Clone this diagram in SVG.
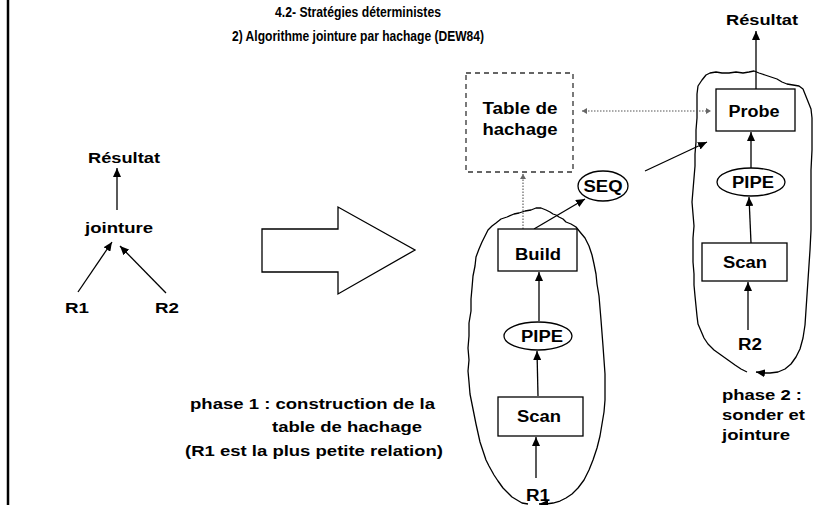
<svg xmlns="http://www.w3.org/2000/svg" width="830" height="505" viewBox="0 0 830 505">
  <defs>
    <style>
      text { font-family: "Liberation Sans", Arial, sans-serif; font-weight: bold; font-size: 15px; fill: #000; }
      .title { font-size: 15px; text-anchor: middle; }
      .c { text-anchor: middle; }
      .n { font-size: 16px; }
      .edge { stroke: #000; stroke-width: 1.3; fill: none; marker-end: url(#arrow); }
      .dot { stroke: #555; stroke-width: 1.1; stroke-dasharray: 1.5 1.5; fill: none; }
      .box { fill: #fff; stroke: #000; stroke-width: 1.3; }
      .blob { fill: none; stroke: #000; stroke-width: 1.3; stroke-linejoin: round; marker-end: url(#arrow); }
    </style>
    <marker id="arrow" markerUnits="userSpaceOnUse" markerWidth="9" markerHeight="8" refX="9" refY="4" orient="auto">
      <path d="M0,0 L9,4 L0,8 z" fill="#000"/>
    </marker>
    <marker id="tiny" markerUnits="userSpaceOnUse" markerWidth="6" markerHeight="6" refX="5" refY="3" orient="auto">
      <path d="M0,0 L5,3 L0,6 z" fill="#666"/>
    </marker>
    <marker id="tinyStart" markerUnits="userSpaceOnUse" markerWidth="6" markerHeight="6" refX="0" refY="3" orient="auto">
      <path d="M5,0 L0,3 L5,6 z" fill="#666"/>
    </marker>
  </defs>

  <rect width="830" height="505" fill="#fff"/>

  <!-- page margin rule -->
  <line x1="8" y1="0" x2="8" y2="505" stroke="#000" stroke-width="2.5"/>

  <!-- headings -->
  <text class="title" x="358" y="17" textLength="166" lengthAdjust="spacingAndGlyphs">4.2- Stratégies déterministes</text>
  <text class="title" x="358" y="41" textLength="252" lengthAdjust="spacingAndGlyphs">2) Algorithme jointure par hachage (DEW84)</text>

  <!-- logical plan (left tree) -->
  <g id="tree-resultat"><text class="c" x="124" y="163" textLength="72" lengthAdjust="spacingAndGlyphs">Résultat</text></g>
  <g id="tree-jointure"><text class="c" x="119" y="233" textLength="68" lengthAdjust="spacingAndGlyphs">jointure</text></g>
  <g id="tree-r1"><text class="c" x="77" y="313" textLength="24" lengthAdjust="spacingAndGlyphs">R1</text></g>
  <g id="tree-r2"><text class="c" x="167" y="313" textLength="24" lengthAdjust="spacingAndGlyphs">R2</text></g>

  <!-- block arrow -->
  <g id="transform-arrow">
    <polygon points="262,229 338,229 338,207 415,250 338,294 338,272 262,272" fill="#fff" stroke="#000" stroke-width="1.3"/>
  </g>

  <!-- phase 1 region -->
  <g id="phase1-region">
    <path class="blob" d="M528,504 L522,503 L517,500 L512,497 L507,492 L503,488 L498,481 L494,475 L489,466 L486,460 L483,451 L480,442 L478,433 L476,424 L474,414 L472,404 L470,394 L469,382 L468,371 L469,360 L468,348 L469,336 L469,323 L471,311 L471,299 L472,288 L473,276 L475,266 L476,257 L479,249 L482,242 L485,236 L488,230 L492,226 L496,223 L501,219 L507,217 L514,214 L519,213 L525,211 L531,210 L536,208 L541,208 L546,210 L550,212 L553,214 L556,215 L559,217 L563,219 L566,222 L571,224 L576,227 L580,232 L585,238 L589,246 L592,255 L594,264 L596,274 L597,284 L599,296 L600,308 L601,320 L602,333 L603,346 L604,360 L605,374 L605,388 L605,400 L604,412 L602,424 L600,436 L597,448 L593,460 L589,470 L584,480 L578,488 L572,494 L566,498 L560,501 L553,503 L546,504 L539,504"/>
  </g>

  <!-- phase 2 region -->
  <g id="phase2-region">
    <path class="blob" d="M747,372 L741,369 L735,365 L728,360 L721,355 L714,350 L708,344 L704,338 L701,331 L698,324 L697,316 L696,306 L695,296 L694,285 L694,274 L693,262 L693,250 L693,238 L694,226 L693,214 L692,202 L693,190 L694,178 L695,166 L695,154 L696,142 L696,130 L697,118 L697,106 L697,94 L698,86 L702,80 L706,75 L710,73 L716,72 L722,73 L729,73 L736,72 L743,73 L749,72 L754,71 L759,73 L765,75 L771,77 L777,79 L782,82 L787,84 L793,85 L799,86 L803,89 L805,94 L807,99 L809,104 L811,109 L812,118 L812,132 L812,150 L811,170 L811,190 L811,210 L811,230 L810,250 L809,265 L808,280 L807,295 L806,310 L805,325 L803,338 L800,349 L796,357 L791,364 L785,369 L778,372 L770,373 L763,373 L756,372"/>
  </g>

  <!-- connectors -->
  <g id="connectors">
    <line class="edge" x1="117" y1="210" x2="117" y2="168"/>
    <line class="edge" x1="78" y1="292" x2="112" y2="242"/>
    <line class="edge" x1="166" y1="293" x2="120" y2="246"/>
    <line class="edge" x1="756" y1="89" x2="756" y2="31"/>
    <line class="edge" x1="534" y1="229" x2="585" y2="199"/>
    <line class="edge" x1="645" y1="171" x2="707" y2="142"/>
    <line class="edge" x1="751" y1="168" x2="751" y2="132"/>
    <line class="edge" x1="751" y1="243" x2="749" y2="197"/>
    <line class="edge" x1="748" y1="330" x2="748" y2="282"/>
    <line class="edge" x1="539" y1="321" x2="539" y2="272"/>
    <line class="edge" x1="538" y1="396" x2="537" y2="351"/>
    <line class="edge" x1="536" y1="478" x2="536" y2="437"/>
    <line class="dot" x1="582" y1="111" x2="711" y2="111" marker-start="url(#tinyStart)" marker-end="url(#tiny)"/>
    <line class="dot" x1="523" y1="229" x2="523" y2="174" marker-end="url(#tiny)"/>
  </g>

  <!-- hash table -->
  <g id="hash-table">
    <rect x="466" y="73" width="107" height="99" fill="none" stroke="#333" stroke-width="1.3" stroke-dasharray="5 4"/>
    <text class="c n" x="520" y="114" textLength="75" lengthAdjust="spacingAndGlyphs">Table de</text>
    <text class="c n" x="520" y="135" textLength="75" lengthAdjust="spacingAndGlyphs">hachage</text>
  </g>

  <!-- phase 1 operators -->
  <g id="build">
    <rect class="box" x="498" y="229" width="79" height="42"/>
    <text class="c n" x="538" y="260" textLength="46" lengthAdjust="spacingAndGlyphs">Build</text>
  </g>
  <g id="pipe1">
    <ellipse cx="538" cy="336" rx="34" ry="14" fill="#fff" stroke="#000" stroke-width="1.3"/>
    <text class="c n" x="542" y="342" textLength="42" lengthAdjust="spacingAndGlyphs">PIPE</text>
  </g>
  <g id="scan1">
    <rect class="box" x="498" y="397" width="85" height="39"/>
    <text class="c n" x="539" y="422" textLength="44" lengthAdjust="spacingAndGlyphs">Scan</text>
  </g>
  <g id="r1"><text class="c n" x="538" y="501" textLength="24" lengthAdjust="spacingAndGlyphs">R1</text></g>

  <!-- sequencing -->
  <g id="seq">
    <ellipse cx="603" cy="186" rx="25" ry="15" fill="#fff" stroke="#000" stroke-width="1.3"/>
    <text class="c n" x="603" y="192" textLength="39" lengthAdjust="spacingAndGlyphs">SEQ</text>
  </g>

  <!-- phase 2 operators -->
  <g id="resultat"><text class="c" x="762" y="25" textLength="72" lengthAdjust="spacingAndGlyphs">Résultat</text></g>
  <g id="probe">
    <rect class="box" x="716" y="89" width="79" height="42"/>
    <text class="c n" x="754" y="117" textLength="51" lengthAdjust="spacingAndGlyphs">Probe</text>
  </g>
  <g id="pipe2">
    <ellipse cx="751" cy="182" rx="34" ry="14" fill="#fff" stroke="#000" stroke-width="1.3"/>
    <text class="c n" x="753" y="188" textLength="42" lengthAdjust="spacingAndGlyphs">PIPE</text>
  </g>
  <g id="scan2">
    <rect class="box" x="702" y="243" width="85" height="38"/>
    <text class="c n" x="745" y="268" textLength="44" lengthAdjust="spacingAndGlyphs">Scan</text>
  </g>
  <g id="r2"><text class="c n" x="750" y="350" textLength="24" lengthAdjust="spacingAndGlyphs">R2</text></g>

  <!-- captions -->
  <g id="caption1">
    <text x="190" y="409" textLength="245" lengthAdjust="spacingAndGlyphs">phase 1 : construction de la</text>
    <text x="272" y="432" textLength="150" lengthAdjust="spacingAndGlyphs">table de hachage</text>
    <text x="185" y="456" textLength="258" lengthAdjust="spacingAndGlyphs">(R1 est la plus petite relation)</text>
  </g>
  <g id="caption2">
    <text x="722" y="400" textLength="80" lengthAdjust="spacingAndGlyphs">phase 2 :</text>
    <text x="722" y="420" textLength="83" lengthAdjust="spacingAndGlyphs">sonder et</text>
    <text x="722" y="440" textLength="68" lengthAdjust="spacingAndGlyphs">jointure</text>
  </g>
</svg>
